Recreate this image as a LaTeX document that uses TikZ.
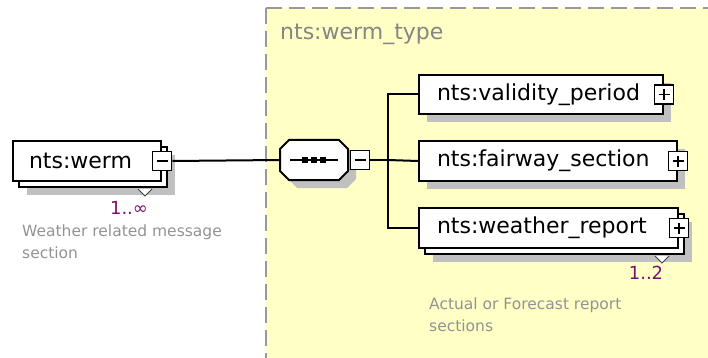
\documentclass[tikz,border=0pt]{standalone}
\usepackage{fontspec}
\setmainfont{DejaVu Sans}
\usetikzlibrary{positioning,shadows}

\definecolor{typefill}{HTML}{FFFFC6}
\definecolor{typeline}{HTML}{999999}
\definecolor{typetext}{HTML}{858585}
\definecolor{shadowgray}{HTML}{C0C0C0}
\definecolor{notetext}{HTML}{939393}
\definecolor{multtext}{HTML}{7B0F6E}

\begin{document}
\begin{tikzpicture}[x=1pt,y=-1pt,
  elem/.style={draw, fill=white, line width=2pt, minimum height=39pt,
    inner xsep=18pt, inner ysep=0pt, align=left, font=\fontsize{22}{26}\selectfont,
    drop shadow={shadow xshift=8pt, shadow yshift=-8pt, fill=shadowgray, draw=none, opacity=1}},
  elemmany/.style={draw, fill=white, line width=2pt, minimum height=39pt,
    inner xsep=18pt, inner ysep=0pt, align=left, font=\fontsize{22}{26}\selectfont,
    drop shadow={shadow xshift=14pt, shadow yshift=-14pt, fill=shadowgray, draw=none, opacity=1},
    copy shadow={shadow xshift=6pt, shadow yshift=-6pt, fill=white, draw=black, line width=2pt}},
  signbox/.style={draw, fill=white, line width=1.6pt, minimum size=19pt, inner sep=0pt},
  minusbox/.style={signbox, path picture={
    \draw[line width=1.6pt] ([xshift=4pt]path picture bounding box.west) -- ([xshift=-4pt]path picture bounding box.east);}},
  plusbox/.style={signbox, path picture={
    \draw[line width=1.6pt] ([xshift=4pt]path picture bounding box.west) -- ([xshift=-4pt]path picture bounding box.east);
    \draw[line width=1.6pt] ([yshift=-4pt]path picture bounding box.north) -- ([yshift=4pt]path picture bounding box.south);}},
  seqarea/.style={minimum width=68pt, minimum height=40pt, inner sep=0pt},
  link/.style={line width=2pt},
  tri/.style={draw=black!75, fill=white, line width=1pt},
  typelabel/.style={text=typetext, font=\fontsize{22}{26}\selectfont, inner sep=0pt},
  note/.style={text=notetext, font=\fontsize{15.5}{22}\selectfont, align=left, inner sep=0pt},
  mult/.style={text=multtext, font=\fontsize{18}{20}\selectfont, inner sep=0pt}]

\useasboundingbox (0,0) rectangle (708,358);

% type area
\fill[typefill] (266,8) rectangle (708,358);
\draw[typeline, line width=2pt, dash pattern=on 16pt off 7pt] (266,8) -- (266,358);
\draw[typeline, line width=2pt, dash pattern=on 16pt off 7pt] (266,8) -- (708,8);
\node[typelabel, anchor=base west] (typename) at (280,40) {nts:werm\_type};

% elements
\node[elemmany, anchor=north west, inner xsep=16pt, text width=116pt, minimum height=40pt] (werm) at (12,140) {nts:werm};
\node[elem, anchor=north west, text width=208pt] (validity) at (418,74) {nts:validity\_period};
\node[elem, anchor=north west, text width=222pt] (fairway) at (418,140.5) {nts:fairway\_section};
\node[elemmany, anchor=north west, text width=223pt, minimum height=40pt] (weather) at (418,207) {nts:weather\_report};

% expand signs
\node[minusbox] (wermsign) at (werm.east) {};
\node[plusbox] (validitysign) at (validity.east) {};
\node[plusbox] (fairwaysign) at (fairway.east) {};
\node[plusbox] (weathersign) at (weather.east) {};

% sequence compositor
\node[seqarea] (seq) at (314,160) {};
\fill[shadowgray, shift={(8,8)}] (289,140) -- (339,140) -- (348,149) -- (348,171) -- (339,180) -- (289,180) -- (280,171) -- (280,149) -- cycle;
\draw[fill=white, line width=2pt] (289,140) -- (339,140) -- (348,149) -- (348,171) -- (339,180) -- (289,180) -- (280,171) -- (280,149) -- cycle;
\node[minusbox, anchor=west] (seqsign) at ([xshift=1.5pt]seq.east) {};
\draw[line width=1.6pt] ([xshift=-24pt]seq.center) -- ([xshift=24pt]seq.center);
\foreach \dx in {-9,0,9}
  \fill ([xshift=\dx pt]seq.center) +(-3,-3) rectangle +(3,3);

% connectors
\coordinate (fork) at (388,160);
\draw[link] (wermsign.east) -- (seq.west);
\draw[link] (seqsign.east) -- (fork);
\draw[link] (validity.west) -| (fork) |- (weather.west);
\draw[link] (fork) -- (fairway.west);

% occurrence marks
\draw[tri] ([xshift=-24pt,yshift=-7pt]werm.south east) -- ([xshift=-17pt,yshift=-14pt]werm.south east) -- ([xshift=-10pt,yshift=-7pt]werm.south east);
\draw[tri] ([xshift=-24pt,yshift=-7pt]weather.south east) -- ([xshift=-17pt,yshift=-14pt]weather.south east) -- ([xshift=-10pt,yshift=-7pt]weather.south east);

% labels
\node[mult] (wermmult) at (129,208) {1..∞};
\node[mult] (weathermult) at (646,273) {1..2};
\node[note, anchor=north west] (wermnote) at (22,225) {Weather related message\\section};
\node[note, anchor=north west] (weathernote) at (429,298) {Actual or Forecast report\\sections};

\end{tikzpicture}
\end{document}
